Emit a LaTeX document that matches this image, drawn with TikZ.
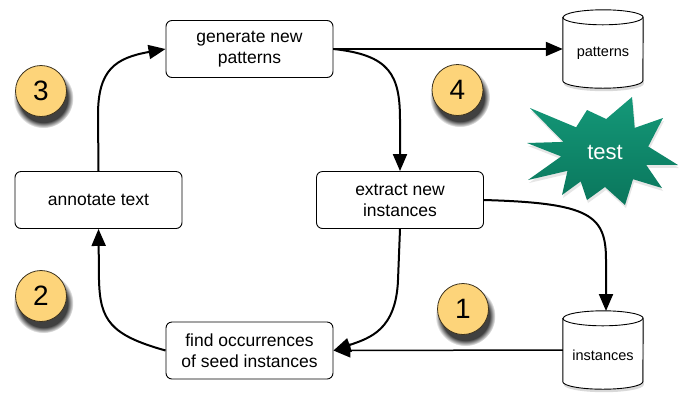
\documentclass[tikz,border=0pt]{standalone}
\usepackage{fontspec}
\setmainfont{Liberation Sans}
\usetikzlibrary{arrows.meta,shadows,backgrounds,fadings,calc}
\definecolor{numfill}{RGB}{253,212,122}
\definecolor{numline}{RGB}{60,50,30}
\definecolor{startop}{RGB}{20,152,120}
\definecolor{starbot}{RGB}{10,118,92}
\newcommand\mycylinder[1]{%
  \draw[line width=0.9pt, fill=white, drop shadow={opacity=0.3, shadow xshift=1pt, shadow yshift=-3pt}]
    ($(#1.north west)+(0pt,-7.5pt)$) -- ($(#1.south west)+(0pt,7.5pt)$)
    arc[start angle=180,end angle=360,x radius=40pt,y radius=7.5pt]
    -- ($(#1.north east)+(0pt,-7.5pt)$)
    arc[start angle=0,end angle=180,x radius=40pt,y radius=7.5pt] -- cycle;
  \draw[line width=0.9pt] ($(#1.north west)+(0pt,-7.5pt)$)
    arc[start angle=180,end angle=360,x radius=40pt,y radius=7.5pt];
}
\begin{document}
\begin{tikzpicture}[x=1pt,y=-1pt,
  box/.style={draw, line width=0.9pt, rounded corners=6pt, minimum width=167pt, minimum height=57pt,
    align=center, font=\fontsize{17.5}{21}\selectfont, inner sep=0pt},
  cylbox/.style={minimum width=80pt, minimum height=78pt, inner sep=0pt},
  cyltext/.style={inner sep=0pt, font=\fontsize{14.5}{17}\selectfont},
  num/.style={circle, draw=numline, line width=0.8pt, fill=numfill, minimum size=51pt, inner sep=0pt,
    font=\fontsize{28}{30}\selectfont,
    general shadow={shadow xshift=2pt, shadow yshift=-6pt, shadow scale=1.18, fill=black, opacity=0.75,
      path fading={circle with fuzzy edge 20 percent}}},
  flow/.style={line width=2pt, -{Triangle[length=17pt,width=14pt]}},
  thinflow/.style={line width=1.5pt, -{Triangle[length=17pt,width=14pt]}},
]
\useasboundingbox (0,0) rectangle (679,392);

% boxes
\node[box] (gen) at (249.5,49) {generate new\\patterns};
\node[box] (ann) at (98.5,200) {annotate text};
\node[box] (ext) at (400,200) {extract new\\instances};
\node[box] (find) at (249.5,350.5) {find occurrences\\of seed instances};

% cylinders
\node[cylbox] (pat) at (603,49) {};
\node[cylbox] (ins) at (603,350) {};
\begin{scope}[on background layer]
  \mycylinder{pat}
  \mycylinder{ins}
\end{scope}
\node[cyltext] (patlbl) at (603,53) {patterns};
\node[cyltext] (inslbl) at (603,355) {instances};

% star
\shade[top color=startop, bottom color=starbot, drop shadow={opacity=0.2, shadow xshift=1pt, shadow yshift=-3pt}]
  (527,143) -- (563.4,141.9) -- (530,108) -- (576.1,127.3) -- (587,110) -- (606.2,119)
  -- (632,97) -- (634.7,127.9) -- (663,118) -- (648.2,146.5) -- (678,165) -- (646.2,164.9)
  -- (662,188) -- (633,179.2) -- (625,205) -- (605,187) -- (587,200) -- (580.7,181.4)
  -- (562,195) -- (567.5,170.8) -- (528,180) -- (561.2,156.4) -- cycle;
\node[text=white, font=\fontsize{22}{24}\selectfont, inner sep=0pt] (star) at (605,152) {test};

% numbers
\node[num] (n3) at (41,91) {3};
\node[num] (n4) at (457.5,90) {4};
\node[num] (n2) at (41,296) {2};
\node[num] (n1) at (463,309) {1};

% connectors
\draw[flow] (gen.east) -- (pat.west);
\draw[flow] (gen.east) .. controls (390,55) and (400,75) .. (400,120) -- (ext.north);
\draw[flow] (ann.north) -- (98,115) .. controls (98,70) and (115,58) .. (gen.west);
\draw[flow] (find.west) .. controls (110,335) and (100,320) .. (99,280) -- (ann.south);
\draw[flow] (ext.south) -- (398,280) .. controls (396,330) and (370,338) .. (find.east);
\draw[flow] (ext.east) .. controls (590,203) and (606,215) .. (606,260) -- (606,311);
\draw[thinflow] (ins.west) -- (find.east);
\end{tikzpicture}
\end{document}
